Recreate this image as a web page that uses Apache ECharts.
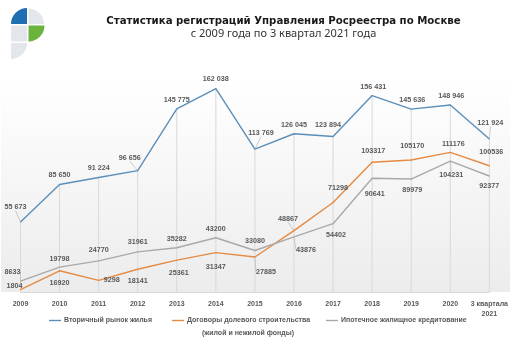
<!DOCTYPE html>
<html lang="ru">
<head>
    <meta charset="UTF-8">
    <title>Статистика регистраций</title>
    <script src="https://cdn.jsdelivr.net/npm/echarts@6/dist/echarts.min.js"></script>
    <style>
        html, body { margin: 0; padding: 0; background: #fff; }
        #chart { width: 511px; height: 351px; }
    </style>
</head>
<body>
    <div id="chart"></div>
    <script>
        // данные
        var years = ['2009', '2010', '2011', '2012', '2013', '2014', '2015', '2016', '2017', '2018', '2019', '2020', '3 квартала\n2021'];
        var secondary = [55673, 85650, 91224, 96656, 145775, 162038, 113769, 126045, 123894, 156431, 145636, 148946, 121924];
        var equity = [1804, 16920, 9298, 18141, 25361, 31347, 27885, 48867, 71298, 103317, 105170, 111176, 100536];
        var mortgage = [8633, 19798, 24770, 31961, 35282, 43200, 33080, 43876, 54402, 90641, 89979, 104231, 92377];
        var names = ['Вторичный рынок жилья', 'Договоры долевого строительства', 'Ипотечное жилищное кредитование'];

        // сдвиг подписей относительно точки
        var blueShift = [[-5, -15], [0, -9], [0, -9], [-8, -13], [0, -9], [0, -10], [6, -16], [0, -9], [-5, -11], [1, -9], [1, -9.5], [1, -9], [1, -16]];
        var orangeShift = [[-6, -4], [0, 12], [13, 0], [0, 11.5], [2, 12.5], [0, 14.5], [11, 15], [-6, -12], [5, -14], [1, -11], [1, -13.5], [3, -8.5], [2, -13.5]];
        var grayShift = [[-8, -9], [0, -8.5], [0, -11], [0, -10], [0, -8.5], [0, -9], [0, -9], [12, 13], [3, 11.5], [2.5, 16], [1, 11], [1, 14], [0, 10]];
        var leaders = [[0, 3, 6, 12], [6, 7], [0, 7, 11]];
        var shifts = [blueShift, orangeShift, grayShift];

        var colors = ['#5b8fba', '#e58a42', '#a9a9a9'];
        var txt = '#595959';

        function spaced(v) {
            return String(v).replace(/\B(?=(\d{3})+(?!\d))/g, ' ');
        }

        function makeData(values, si) {
            return values.map(function (v, i) {
                return {
                    value: v,
                    labelLine: { show: leaders[si].indexOf(i) >= 0 }
                };
            });
        }

        function lineSeries(values, si) {
            return {
                name: names[si],
                type: 'line',
                data: makeData(values, si),
                symbol: 'circle',
                symbolSize: 1,
                z: 3 + si,
                lineStyle: { color: colors[si], width: 1.4 },
                itemStyle: { color: colors[si] },
                label: {
                    show: true,
                    position: 'inside',
                    fontSize: 7.2,
                    fontWeight: 'bold',
                    fontFamily: 'Liberation Sans',
                    color: txt,
                    formatter: function (p) {
                        return si === 0 ? spaced(p.value) : String(p.value);
                    }
                },
                labelLine: { show: false, lineStyle: { color: '#bdbdbd', width: 0.8 } },
                labelLayout: function (p) {
                    var s = shifts[si][p.dataIndex];
                    var cx = p.rect.x + p.rect.width / 2;
                    var cy = p.rect.y + p.rect.height / 2;
                    return { x: cx + s[0], y: cy + s[1], align: 'center', verticalAlign: 'middle' };
                },
                emphasis: { disabled: true }
            };
        }

        var chart = echarts.init(document.getElementById('chart'));

        var option = {
            backgroundColor: '#fff',
            animation: false,
            title: {
                text: 'Статистика регистраций Управления Росреестра по Москве',
                subtext: 'с 2009 года по 3 квартал 2021 года',
                left: 283.5,
                top: 16,
                padding: 0,
                textAlign: 'center',
                itemGap: 2,
                textStyle: { fontSize: 10.2, fontWeight: 'bold', fontFamily: 'DejaVu Sans', color: '#1a1a1a' },
                subtextStyle: { fontSize: 11, fontFamily: 'Noto Sans', color: '#333' }
            },
            graphic: [
                // фон области построения
                {
                    type: 'rect', z: -10, silent: true,
                    shape: { x: 1, y: 80, width: 509, height: 212 },
                    style: {
                        fill: new echarts.graphic.LinearGradient(0, 0, 0, 1, [
                            { offset: 0, color: '#ffffff' },
                            { offset: 1, color: '#ececec' }
                        ])
                    }
                },
                // логотип
                { type: 'sector', shape: { cx: 27, cy: 24, r: 16, startAngle: Math.PI, endAngle: Math.PI * 1.5 }, style: { fill: '#1f6db3' } },
                { type: 'sector', shape: { cx: 28.5, cy: 24, r: 15.5, startAngle: Math.PI * 1.5, endAngle: Math.PI * 2 }, style: { fill: '#e3e6eb' } },
                { type: 'rect', shape: { x: 11, y: 25.5, width: 16, height: 16 }, style: { fill: '#e3e6eb' } },
                { type: 'sector', shape: { cx: 28.5, cy: 25.5, r: 16, startAngle: 0, endAngle: Math.PI * 0.5 }, style: { fill: '#6cb33e' } },
                { type: 'sector', shape: { cx: 11, cy: 43, r: 16, startAngle: 0, endAngle: Math.PI * 0.5 }, style: { fill: '#e3e6eb' } },
                // вторая строка легенды
                {
                    type: 'text', x: 248, y: 333,
                    style: { text: '(жилой и нежилой фонды)', fontSize: 7, fontWeight: 'bold', fontFamily: 'Liberation Sans', fill: txt, align: 'center', verticalAlign: 'middle' }
                }
            ],
            legend: [0, 1, 2].map(function (i) {
                return {
                    data: [names[i]],
                    left: [49, 172, 326][i],
                    top: 317,
                    padding: 0,
                    icon: 'rect',
                    itemWidth: 12,
                    itemHeight: 1.4,
                    itemGap: 3,
                    selectedMode: false,
                    textStyle: { fontSize: 7, fontWeight: 'bold', fontFamily: 'Liberation Sans', color: txt, padding: [0, 0, 0, -2] }
                };
            }),
            grid: { left: 20.5, right: 20.5, top: 66, bottom: 59 },
            xAxis: {
                type: 'category',
                data: years,
                boundaryGap: false,
                axisLine: { lineStyle: { color: '#d9d9d9', width: 1 } },
                axisTick: { show: false },
                axisLabel: { margin: 7, fontSize: 7, fontWeight: 'bold', fontFamily: 'Liberation Sans', color: txt, lineHeight: 10, interval: 0 }
            },
            yAxis: {
                type: 'value',
                min: 0,
                max: 180000,
                show: false,
                splitLine: { show: false }
            },
            series: [
                {
                    // вертикальные линии от точек до оси
                    type: 'bar',
                    data: secondary,
                    barWidth: 1,
                    silent: true,
                    z: 1,
                    itemStyle: { color: '#d9d9d9' }
                },
                lineSeries(secondary, 0),
                lineSeries(equity, 1),
                lineSeries(mortgage, 2)
            ]
        };

        chart.setOption(option);
    </script>
</body>
</html>
